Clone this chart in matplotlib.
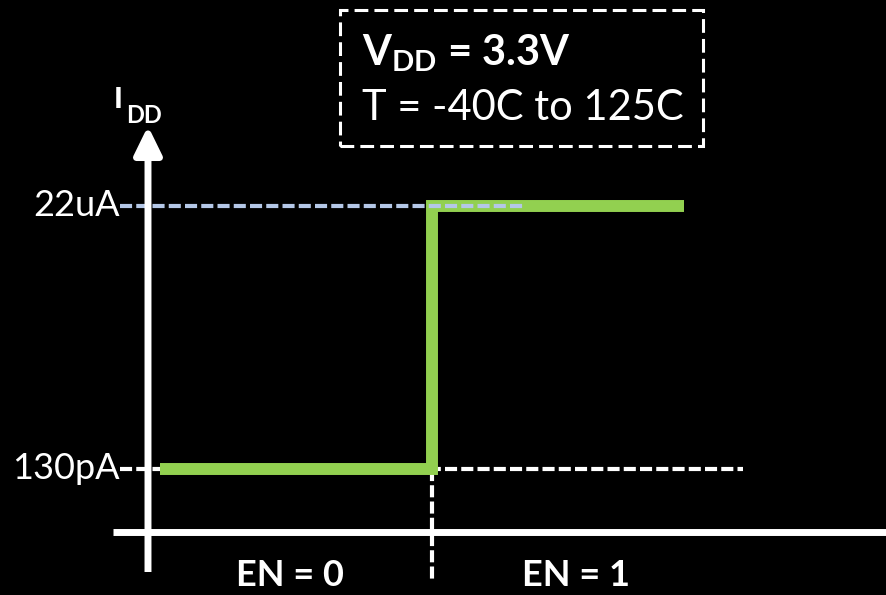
"""Schematic of supply current vs. enable state (I_DD step from 130pA to 22uA)."""

import matplotlib

matplotlib.use("Agg")
import matplotlib.pyplot as plt
from matplotlib.patches import Rectangle

# schematic data: x is the enable timeline, y the (not to scale) current level
LEVEL_LABELS = ["130pA", "22uA"]
LEVEL_Y = [1.0, 5.175]
STATES = ["EN = 0", "EN = 1"]
STATE_X = [0.5, 1.507]
STEP_X = 1.0
TRACE_X = [0.042, STEP_X, STEP_X, 1.887]
TRACE_Y = [LEVEL_Y[0], LEVEL_Y[0], LEVEL_Y[1], LEVEL_Y[1]]
GUIDE_END = [2.095, 1.327]
CONDITIONS = [r"$\mathbf{V_{DD}}$ = 3.3V", "T = -40C to 125C"]

GREEN = "#92D050"
BLUE = "#B4C7E7"
FONT = "Lato"

plt.rcParams["font.family"] = [FONT, "DejaVu Sans"]
plt.rcParams["mathtext.fontset"] = "custom"
plt.rcParams["mathtext.rm"] = FONT
plt.rcParams["mathtext.bf"] = f"{FONT}:bold"

fig = plt.figure(figsize=(8.86, 5.95), dpi=100, facecolor="black")
ax = fig.add_axes([0, 0, 1, 1])
ax.set_facecolor("black")
ax.set_xlim(-0.5211, 2.5986)
ax.set_ylim(-1.0, 8.4444)
ax.axis("off")

dash = dict(linestyle=(0, (2.9, 1.0)), lw=3, dash_capstyle="butt")

# guide lines to the current levels
ax.plot([-0.099, GUIDE_END[0]], [LEVEL_Y[0]] * 2, color="white", zorder=2, **dash)
ax.plot([STEP_X, STEP_X], [LEVEL_Y[0], -0.746], color="white", zorder=2, **dash)

# the current trace
ax.plot(TRACE_X, TRACE_Y, color=GREEN, lw=8.6, solid_joinstyle="miter",
        solid_capstyle="butt", zorder=3)
ax.plot([-0.099, GUIDE_END[1]], [LEVEL_Y[1]] * 2, color=BLUE, zorder=4, **dash)

# axes
ax.plot([-0.123, 2.7], [0, 0], color="white", lw=5, solid_capstyle="butt", zorder=5)
ax.annotate("", xy=(0, 6.444), xytext=(0, -0.635),
            arrowprops=dict(arrowstyle="-|>,head_length=17,head_width=8.3",
                            mutation_scale=1, color="white", lw=5,
                            shrinkA=0, shrinkB=0, capstyle="butt"),
            zorder=5)

for label, y in zip(LEVEL_LABELS, LEVEL_Y):
    ax.text(-0.1, y, label, color="white", fontsize=26, ha="right", va="center")

ax.text(-0.12, 6.73, "I", color="white", fontsize=21, fontweight="black",
        ha="left", va="baseline")
ax.text(-0.076, 6.49, "DD", color="white", fontsize=17, fontweight="bold",
        ha="left", va="baseline")

for label, x in zip(STATES, STATE_X):
    ax.text(x, -0.857, label, color="white", fontsize=26, fontweight="bold",
            ha="center", va="baseline")

# operating conditions box
ax.add_patch(Rectangle((0.676, 6.127), 1.954 - 0.676, 8.286 - 6.127,
                       fill=False, edgecolor="white", lw=2.2,
                       linestyle=(0, (4.5, 2.0)), zorder=6))
ax.text(0.754, 7.413, CONDITIONS[0], color="white", fontsize=30,
        fontweight="bold", ha="left", va="baseline")
ax.text(0.754, 6.54, CONDITIONS[1], color="white", fontsize=30,
        ha="left", va="baseline")

fig.savefig("out.png", dpi=100, facecolor="black")
